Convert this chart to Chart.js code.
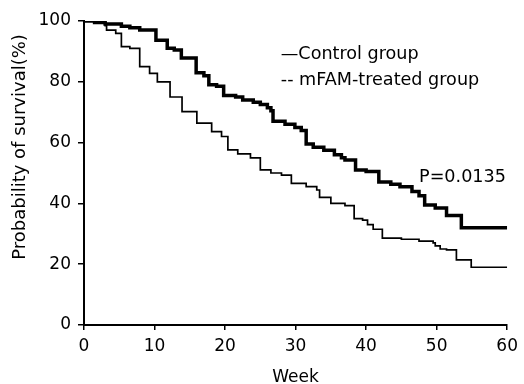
<!DOCTYPE html>
<html>
<head>
<meta charset="utf-8">
<script src="https://cdn.jsdelivr.net/npm/chart.js@4"></script>
<style>
html,body{margin:0;padding:0;background:#fff}
canvas{display:block}
</style>
</head>
<body>
<canvas id="km" width="524" height="384"></canvas>
<script>
// Kaplan-Meier steps: week of the drop, survival (%) right after it
let controlWeeks = [0, 1.5, 3.0, 3.2, 4.5, 5.3, 6.5, 7.9, 9.3, 10.4, 12.2, 13.9, 16.0, 18.1, 19.5, 20.4, 21.8, 23.6, 25.0, 26.5, 28.0, 29.4, 31.5, 33.0, 33.4, 35.0, 37.0, 38.3, 39.5, 40.2, 41.0, 42.3, 45.0, 47.5, 49.5, 49.8, 50.5, 51.4, 52.8, 54.9, 60];
let controlSurv  = [100, 99.5, 98.5, 97, 95.9, 91.6, 91, 85, 82.8, 80, 75, 70.2, 66.4, 63.6, 62, 57.6, 56.3, 55, 51, 50, 49.3, 46.6, 45.5, 44.4, 42, 40, 39.3, 35, 34.5, 33, 31.5, 28.6, 28.2, 27.6, 27, 26, 25, 24.7, 21.4, 19, 19];

let mfamWeeks = [0, 1.5, 3.0, 5.3, 6.5, 7.9, 10.2, 11.8, 12.8, 13.8, 15.9, 17.0, 17.7, 18.8, 19.8, 21.5, 22.5, 24.0, 25.0, 26.0, 26.5, 26.8, 28.5, 29.9, 30.8, 31.5, 32.5, 34.0, 35.5, 36.5, 37.0, 38.5, 40.0, 41.8, 43.5, 44.8, 46.5, 47.5, 48.3, 49.8, 51.4, 53.5, 60];
let mfamSurv  = [100, 99.5, 99, 98.3, 97.8, 97, 93.7, 91, 90.5, 87.8, 83, 82, 79, 78.5, 75.5, 75, 74, 73.3, 72.5, 71.5, 70.5, 67, 66, 65, 64, 59.5, 58.5, 57.5, 56, 55, 54.3, 51, 50.5, 47, 46.3, 45.5, 43.9, 42.5, 39.5, 38.5, 36, 32, 32];

let xTicks = [0, 10, 20, 30, 40, 50, 60];
let yTicks = [0, 20, 40, 60, 80, 100];

let seriesNames = ['Control group', 'mFAM-treated group'];
let pText = 'P=0.0135';

function toPoints(xs, ys){
    return xs.map((x, i) => ({x: x, y: ys[i]}));
}

let FONT = 'DejaVu Sans';

// legend, p value and the y title are plain text in the original
let notes = {
    id: 'notes',
    afterDraw(chart){
        let ctx = chart.ctx;
        let xs = chart.scales.x, ys = chart.scales.y;
        let area = chart.chartArea;
        ctx.save();
        ctx.fillStyle = '#000';
        ctx.font = '17.6px "' + FONT + '"';
        ctx.textBaseline = 'middle';
        ctx.textAlign = 'left';
        ctx.fillText('\u2014' + seriesNames[0], xs.getPixelForValue(27.9), ys.getPixelForValue(89));
        ctx.fillText('-- ' + seriesNames[1], xs.getPixelForValue(27.9), ys.getPixelForValue(80.5));
        ctx.fillText(pText, xs.getPixelForValue(47.5), ys.getPixelForValue(48.7));

        // y title
        ctx.font = '18px "' + FONT + '"';
        ctx.translate(20, (area.top + area.bottom) / 2 - 26);
        ctx.rotate(-Math.PI / 2);
        ctx.textAlign = 'center';
        ctx.fillText('Probability of survival(%)', 0, 0);
        ctx.restore();
    }
};

new Chart(document.getElementById('km'), {
    type: 'line',
    data: {
        datasets: [{
            label: seriesNames[0],
            data: toPoints(controlWeeks, controlSurv),
            borderColor: '#000',
            borderWidth: 1.7,
            stepped: 'before',
            pointRadius: 0,
            fill: false
        }, {
            label: seriesNames[1],
            data: toPoints(mfamWeeks, mfamSurv),
            borderColor: '#000',
            borderWidth: 3.5,
            stepped: 'before',
            pointRadius: 0,
            fill: false
        }]
    },
    options: {
        responsive: false,
        animation: false,
        layout: {padding: {top: 21, right: 13, left: 0, bottom: 0}},
        plugins: {legend: {display: false}, tooltip: {enabled: false}},
        scales: {
            x: {
                type: 'linear',
                min: 0, max: 60,
                afterBuildTicks: s => { s.ticks = xTicks.map(v => ({value: v})); },
                afterFit: s => { s.height = 59; },
                grid: {display: true, drawOnChartArea: false, drawTicks: true, tickLength: 5, color: '#000', lineWidth: 1.5},
                border: {display: true, color: '#000', width: 2},
                ticks: {color: '#000', padding: 6, maxRotation: 0, font: {family: FONT, size: 17}},
                title: {display: true, text: 'Week', color: '#000', padding: 0, font: {family: FONT, size: 17, lineHeight: 0.8}}
            },
            y: {
                min: 0, max: 100,
                afterBuildTicks: s => { s.ticks = yTicks.map(v => ({value: v})); },
                afterFit: s => { s.width = 84; },
                grid: {display: true, drawOnChartArea: false, drawTicks: true, tickLength: 6, color: '#000', lineWidth: 1.5},
                border: {display: true, color: '#000', width: 2},
                ticks: {color: '#000', padding: 7, font: {family: FONT, size: 17}}
            }
        }
    },
    plugins: [notes]
});
</script>
</body>
</html>
